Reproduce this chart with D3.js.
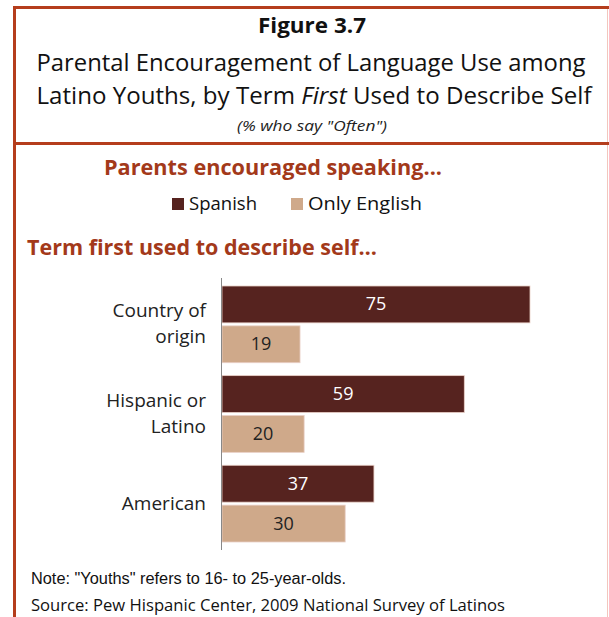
<!DOCTYPE html>
<html><head><meta charset="utf-8">
<script src="https://cdn.jsdelivr.net/npm/d3@7"></script>
<style>html,body{margin:0;padding:0;background:#fff;}svg{display:block;}</style>
</head><body>
<script>
const categories = [["Country of","origin"],["Hispanic or","Latino"],["American"]];
const categoryKeys = ["Country of origin","Hispanic or Latino","American"];
const seriesNames = ["Spanish","Only English"];
const spanish = [75, 59, 37];
const onlyEnglish = [19, 20, 30];
const titleLines = ["Figure 3.7","Parental Encouragement of Language Use among"];
const noteText = 'Note: "Youths" refers to 16- to 25-year-olds.';
const sourceText = "Source: Pew Hispanic Center, 2009 National Survey of Latinos";

const W = 609, H = 617;
const FONT = "'Open Sans', Lato, sans-serif";
const frameColor = "#b53d1c";
const headColor = "#a3391a";
const colors = {"Spanish":"#56231f","Only English":"#cfa98a"};
const svg = d3.select("body").append("svg").attr("width",W).attr("height",H);

// frame
svg.append("line").attr("x1",607.5).attr("x2",607.5).attr("y1",9).attr("y2",H).attr("stroke","#f3c6bd").attr("stroke-width",1);
svg.append("line").attr("x1",13).attr("x2",W).attr("y1",7.5).attr("y2",7.5).attr("stroke",frameColor).attr("stroke-width",3);
svg.append("line").attr("x1",14.5).attr("x2",14.5).attr("y1",6).attr("y2",H).attr("stroke",frameColor).attr("stroke-width",3);
svg.append("line").attr("x1",13).attr("x2",W).attr("y1",143.5).attr("y2",143.5).attr("stroke",frameColor).attr("stroke-width",3);

// title
svg.append("text").attr("x",312).attr("y",33).attr("text-anchor","middle")
  .attr("font-family",FONT).attr("font-weight","bold").attr("font-size",22).attr("fill","#111")
  .attr("textLength",108).attr("lengthAdjust","spacingAndGlyphs").text(titleLines[0]);
svg.append("text").attr("x",311).attr("y",71).attr("text-anchor","middle")
  .attr("font-family",FONT).attr("font-size",23).attr("fill","#111")
  .attr("textLength",549).attr("lengthAdjust","spacingAndGlyphs").text(titleLines[1]);
const t3 = svg.append("text").attr("x",314).attr("y",104).attr("text-anchor","middle")
  .attr("font-family",FONT).attr("font-size",23).attr("fill","#111")
  .attr("textLength",555).attr("lengthAdjust","spacingAndGlyphs");
t3.append("tspan").text("Latino Youths, by Term ");
t3.append("tspan").attr("font-style","italic").text("First");
t3.append("tspan").text(" Used to Describe Self");
svg.append("text").attr("x",312).attr("y",131).attr("text-anchor","middle")
  .attr("font-family",FONT).attr("font-style","italic").attr("font-size",15).attr("fill","#222")
  .attr("textLength",150).attr("lengthAdjust","spacingAndGlyphs").text('(% who say "Often")');

// headings
svg.append("text").attr("x",104).attr("y",175).attr("font-family",FONT).attr("font-weight","bold")
  .attr("font-size",21).attr("fill",headColor).attr("textLength",338).attr("lengthAdjust","spacingAndGlyphs")
  .text("Parents encouraged speaking...");
svg.append("text").attr("x",27).attr("y",255).attr("font-family",FONT).attr("font-weight","bold")
  .attr("font-size",21).attr("fill",headColor).attr("textLength",350).attr("lengthAdjust","spacingAndGlyphs")
  .text("Term first used to describe self\u2026");

// legend
const legX = [172, 291];
const legW = [68, 114];
seriesNames.forEach((s,i)=>{
  const g = svg.append("g").attr("transform",`translate(${legX[i]},198)`);
  g.append("rect").attr("width",12).attr("height",12).attr("fill",colors[s]);
  g.append("text").attr("x",17).attr("y",12).attr("font-family",FONT).attr("font-size",18).attr("fill","#111")
    .attr("textLength",legW[i]).attr("lengthAdjust","spacingAndGlyphs").text(s);
});

// chart
const y0 = d3.scaleBand().domain(categoryKeys).range([286,542]).paddingInner(0.144).paddingOuter(0);
const y1 = d3.scaleBand().domain(seriesNames).range([0,y0.bandwidth()]).paddingInner(0.075);
const x = d3.scaleLinear().domain([0,75]).range([222,530]);
const data = categoryKeys.map((c,i)=>({cat:c, label:categories[i], values:[
  {s:"Spanish", v:spanish[i]}, {s:"Only English", v:onlyEnglish[i]}]}));

const groups = svg.append("g").selectAll("g").data(data).join("g")
  .attr("transform",d=>`translate(0,${y0(d.cat)})`);
groups.selectAll("rect").data(d=>d.values).join("rect")
  .attr("x",x(0)).attr("y",d=>y1(d.s)).attr("width",d=>x(d.v)-x(0)).attr("height",y1.bandwidth())
  .attr("fill",d=>colors[d.s]).attr("stroke","#e9cfc6").attr("stroke-width",0.8);
groups.selectAll("text.val").data(d=>d.values).join("text").attr("class","val")
  .attr("x",d=>(x(d.v)+x(0))/2).attr("y",d=>y1(d.s)+y1.bandwidth()/2+6)
  .attr("text-anchor","middle").attr("font-family",FONT).attr("font-size",18)
  .attr("fill",d=>d.s==="Spanish"?"#fff":"#222").text(d=>d.v);
groups.each(function(d){
  const n = d.label.length;
  const t = d3.select(this).append("text").attr("text-anchor","end").attr("font-family",FONT)
    .attr("font-size",19).attr("fill","#222");
  d.label.forEach((l,j)=>{
    t.append("tspan").attr("x",206).attr("y", y0.bandwidth()/2 + 6 + (j-(n-1)/2)*26).text(l);
  });
});

// axis line
svg.append("line").attr("x1",221.5).attr("x2",221.5).attr("y1",278).attr("y2",550).attr("stroke","#888").attr("stroke-width",1);

// notes
svg.append("text").attr("x",31).attr("y",584).attr("font-family","'Liberation Sans', Arial, sans-serif")
  .attr("font-size",16).attr("fill","#111").attr("textLength",315).attr("lengthAdjust","spacingAndGlyphs").text(noteText);
svg.append("text").attr("x",31).attr("y",611).attr("font-family",FONT)
  .attr("font-size",16).attr("fill","#111").attr("textLength",474).attr("lengthAdjust","spacingAndGlyphs").text(sourceText);
</script>
</body></html>
